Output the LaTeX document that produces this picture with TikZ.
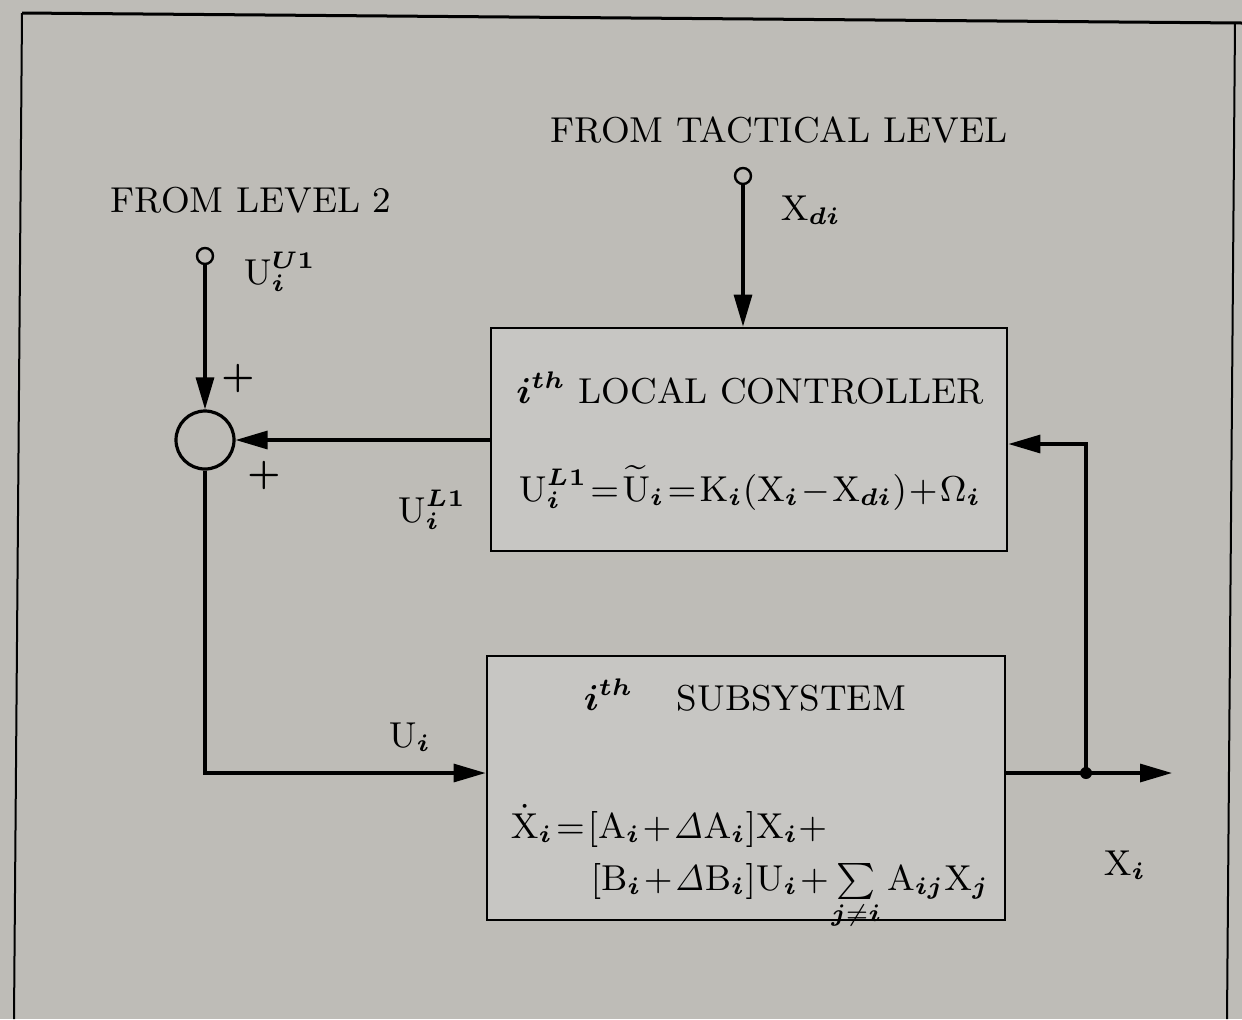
\documentclass[tikz,border=0pt]{standalone}
\usepackage{amsmath,bm}
\usetikzlibrary{arrows.meta}
\definecolor{paper}{RGB}{190,188,183}
\definecolor{boxfill}{RGB}{199,198,195}
\begin{document}
\begin{tikzpicture}[x=0.25pt,y=-0.25pt,
  every node/.style={font=\fontsize{9}{11}\selectfont, inner sep=0pt},
  eqn/.style={execute at begin node={\thickmuskip=1.5mu\medmuskip=1mu}},
  blk/.style={draw, line width=0.7pt, fill=boxfill, inner sep=0pt},
  wire/.style={line width=0.8pt},
  arr/.style={wire,-{Triangle[length=8pt,width=4.5pt]}},
  port/.style={circle, draw, line width=0.6pt, minimum size=4pt, fill=paper},
  sumc/.style={circle, draw, line width=0.8pt, minimum size=14.5pt},
]
\fill[paper] (0,0) rectangle (1242,1019);
\useasboundingbox (0,0) rectangle (1242,1019);
% frame
\draw[line width=0.75pt] (22,13) -- (1242,23);
\draw[line width=0.5pt] (22,13) -- (14,1019);
\draw[line width=0.5pt] (1235,22) -- (1227,1019);

% blocks
\node[blk, minimum width=129pt, minimum height=55.75pt] (ctrl) at (749,439.5) {};
\node[blk, minimum width=129.5pt, minimum height=66pt] (sub) at (746,788) {};
\node[sumc] (sum) at (205,440) {};
\node[port] (pU) at (205,256) {};
\node[port] (pX) at (743,176) {};

% texts
\node (t1) at (779,130) {FROM TACTICAL LEVEL};
\node (t2) at (251,200) {FROM LEVEL 2};
\node[anchor=west] (lxd) at (780,210) {$\mathrm{X}_{\bm{di}}$};
\node[anchor=west] (lu1) at (243,272) {$\mathrm{U}_{\bm i}^{\bm{U}\mathbf{1}}$};
\node (pl1) at (238,378) {$\bm{+}$};
\node (pl2) at (264,475) {$\bm{+}$};
\node (lul) at (432,510) {$\mathrm{U}_{\bm i}^{\bm{L}\mathbf 1}$};
\node (lui) at (410,737) {$\mathrm{U}_{\bm i}$};
\node (lxi) at (1125,865) {$\mathrm{X}_{\bm i}$};
\node (ctitle) at (750,388) {$\bm{i}^{\bm{th}}$ LOCAL CONTROLLER};
\node[eqn] (ceq) at (750,488) {$\mathrm{U}_{\bm i}^{\bm L\mathbf 1}=\widetilde{\mathrm U}_{\bm i}=\mathrm K_{\bm i}(\mathrm X_{\bm i}-\mathrm X_{\bm{di}})+\Omega_{\bm i}$};
\node (stitle) at (745,695) {$\bm i^{\bm{th}}$\hspace{1.2em}SUBSYSTEM};
\node[eqn, anchor=base west] (seq1) at (510,838) {$\dot{\mathrm X}_{\bm i}=[\mathrm A_{\bm i}+\mathit\Delta\mathrm A_{\bm i}]\mathrm X_{\bm i}+$};
\node[eqn, anchor=base west] (seq2) at (590,890) {$[\mathrm B_{\bm i}+\mathit\Delta\mathrm B_{\bm i}]\mathrm U_{\bm i}+\sum\limits_{\bm j\neq\bm i}\mathrm A_{\bm{ij}}\mathrm X_{\bm j}$};

% connectors
\coordinate (yin) at (0,773);
\coordinate (jn) at (1086,773);
\coordinate (xo) at (1172,773);
\coordinate (fb) at (0,444);
\draw[arr] (pU.south) -- (sum.north);
\draw[arr] (pX.south) -- (pX.south |- ctrl.north);
\draw[arr] (ctrl.west |- sum.east) -- (sum.east);
\draw[arr] (sum.south) |- (sub.west |- yin);
\draw[wire] (sub.east |- jn) -- (jn);
\draw[arr] (jn) -- (xo);
\draw[arr] (jn) |- (ctrl.east |- fb);
\fill (jn) circle (1.5pt);
\end{tikzpicture}
\end{document}
